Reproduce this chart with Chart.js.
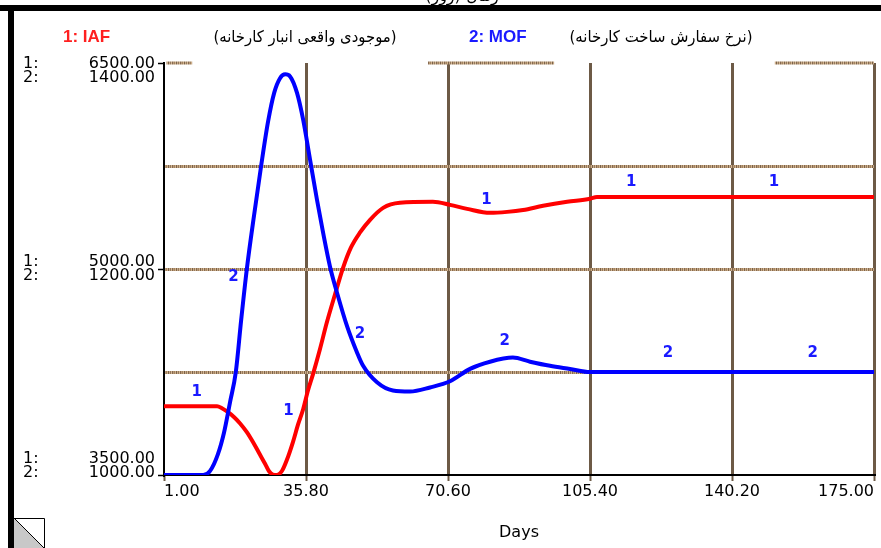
<!DOCTYPE html>
<html>
<head>
<meta charset="utf-8">
<script src="https://cdn.jsdelivr.net/npm/chart.js@4"></script>
<style>
  html, body { margin: 0; padding: 0; background: #fff; }
  #wrap { width: 881px; height: 548px; position: relative; overflow: hidden; }
</style>
</head>
<body>
<div id="wrap"><canvas id="myChart" width="881" height="548"></canvas></div>
<script>
// values (days / units)
const iafDays = [1, 14, 15.2, 16.7, 18.2, 19.6, 21.3, 22.8, 24.3, 25.8, 26.7, 27.7, 28.7, 29.9, 31.1, 32.6, 33.8, 35.1, 36.3, 37.5, 39.2, 40.9, 42.9, 44.9, 46.8, 49, 51.5, 54.7, 58.8, 66.9, 71.1, 75.3, 80.9, 85.1, 89, 93.9, 99.8, 105.4, 107.1, 175];
const iafValues = [4000, 4000, 3986, 3957, 3921, 3877, 3812, 3740, 3660, 3580, 3529, 3503, 3500, 3529, 3609, 3740, 3863, 3979, 4117, 4233, 4414, 4610, 4814, 5010, 5155, 5264, 5358, 5445, 5482, 5489, 5467, 5438, 5409, 5416, 5430, 5460, 5489, 5511, 5525, 5525];

const mofDays = [1, 10.6, 12.3, 14.2, 15.7, 17.2, 18.6, 19.9, 21.3, 23.1, 24.8, 26.5, 28, 29.4, 30.7, 31.9, 33.6, 35.1, 36.8, 38.5, 40, 41.7, 43.4, 45.9, 48.3, 49.8, 53.2, 57.1, 61.3, 66.2, 71.1, 76, 80.9, 86.5, 90.7, 95.6, 100.5, 105.4, 175];
const mofValues = [1000, 1000, 1004, 1020, 1041, 1071, 1100, 1150, 1200, 1253, 1300, 1343, 1371, 1385, 1389, 1387, 1371, 1345, 1306, 1267, 1235, 1202, 1177, 1144, 1119, 1106, 1090, 1082, 1081, 1085, 1091, 1103, 1110, 1114, 1110, 1106, 1103, 1100, 1100];

// axis ticks
const xTickValues = [1, 35.8, 70.6, 105.4, 140.2, 175];
const iafTickValues = [3500, 4250, 5000, 5750, 6500];
const iafLabelTicks = [3500, 5000, 6500];
const mofLabelTicks = [1000, 1200, 1400];

// the little "1" / "2" tags Stella writes along each curve
const iafTagDays = [9, 31.5, 80, 115.5, 150.5];
const iafTagValues = [4100, 3965, 5505, 5635, 5635];
const mofTagDays = [18, 49, 84.5, 124.5, 160];
const mofTagValues = [1192, 1137, 1130, 1118, 1118];

const seriesNames = ['1: IAF', '2: MOF'];
const seriesTitles = ['(موجودی واقعی انبار کارخانه)', '(نرخ سفارش ساخت کارخانه)'];

const FONT = 'DejaVu Sans';
const axisFont = { family: FONT, size: 16 };
const vGridColor = '#6d5a46';
const clear = 'rgba(0,0,0,0)';

let canvas = document.getElementById('myChart');
let ctx = canvas.getContext('2d');

// textured brown for the horizontal grid lines
function brownPattern() {
    const c = document.createElement('canvas');
    c.width = 8; c.height = 3;
    const g = c.getContext('2d');
    const cols = ['#7b6249', '#c7aa88', '#94785b', '#d2b794', '#86694f', '#b89a78', '#a0825f', '#cfb08c'];
    cols.forEach((col, i) => { g.fillStyle = col; g.fillRect(i, 0, 1, 3); });
    return ctx.createPattern(c, 'repeat');
}
const hGrid = brownPattern();

const stellaPlugin = {
    id: 'stella',
    beforeDatasetsDraw(chart) {
        // top grid line is only partly drawn in the original
        const c = chart.ctx, xs = chart.scales.x, ys = chart.scales.y;
        const py = ys.getPixelForValue(6500);
        c.save();
        c.strokeStyle = hGrid;
        c.lineWidth = 3;
        [[1.6, 7.9], [65.7, 96.6], [150.7, 175]].forEach(([a, b]) => {
            c.beginPath();
            c.moveTo(xs.getPixelForValue(a), py);
            c.lineTo(xs.getPixelForValue(b), py);
            c.stroke();
        });
        c.restore();
    },
    afterDatasetsDraw(chart) {
        const c = chart.ctx, xs = chart.scales.x;
        c.save();
        c.font = 'bold 15px "' + FONT + '"';
        c.fillStyle = '#1a1aff';
        c.textAlign = 'center';
        c.textBaseline = 'middle';
        iafTagDays.forEach((d, i) => {
            c.fillText('1', xs.getPixelForValue(d), chart.scales.y.getPixelForValue(iafTagValues[i]));
        });
        mofTagDays.forEach((d, i) => {
            c.fillText('2', xs.getPixelForValue(d), chart.scales.y2.getPixelForValue(mofTagValues[i]));
        });
        c.restore();
    },
    afterDraw(chart) {
        const c = chart.ctx, ys = chart.scales.y;
        c.save();

        // y labels, both scales stacked at each labelled tick
        c.font = '16px "' + FONT + '"';
        c.fillStyle = '#000';
        c.textBaseline = 'middle';
        iafLabelTicks.forEach((v, i) => {
            const py = ys.getPixelForValue(v);
            let y1 = py - 7, y2 = py + 7;
            if (i === 0) { y1 = py - 16; y2 = py - 2; }
            if (i === iafLabelTicks.length - 1) { y1 = py + 0.5; y2 = py + 14.5; }
            c.textAlign = 'left';
            c.fillText('1:', 23, y1);
            c.fillText('2:', 23, y2);
            c.textAlign = 'right';
            c.fillText(v.toFixed(2), 155, y1);
            c.fillText(mofLabelTicks[i].toFixed(2), 155, y2);
        });

        // legend row
        c.font = 'bold 17px "Liberation Sans"';
        c.textAlign = 'left';
        c.fillStyle = '#ff2020';
        c.fillText(seriesNames[0], 63, 37, 48);
        c.fillStyle = '#1a1aff';
        c.fillText(seriesNames[1], 469, 37, 60);
        c.fillStyle = '#000';
        c.font = '16px "' + FONT + '"';
        c.direction = 'rtl';
        c.textAlign = 'center';
        c.fillText(seriesTitles[0], 305, 38, 183);
        c.fillText(seriesTitles[1], 661, 38, 183);

        // cut-off window title
        c.font = '16px "' + FONT + '"';
        c.textBaseline = 'alphabetic';
        c.fillText('زمان (روز)', 462, 1);
        c.direction = 'ltr';

        // window frame
        c.fillStyle = '#000';
        c.fillRect(0, 5, 881, 6);
        c.fillRect(8, 5, 6, 543);

        // page corner icon
        c.fillStyle = '#c8c8c8';
        c.beginPath();
        c.moveTo(14, 518); c.lineTo(45, 549); c.lineTo(14, 549); c.closePath();
        c.fill();
        c.strokeStyle = '#000';
        c.lineWidth = 1;
        c.beginPath();
        c.moveTo(14, 518.5); c.lineTo(44.5, 518.5); c.lineTo(44.5, 549);
        c.moveTo(14, 518); c.lineTo(45, 549);
        c.stroke();
        c.restore();
    }
};

let chart = new Chart(ctx, {
    type: 'line',
    data: {
        datasets: [{
            label: 'IAF',
            data: iafDays.map((d, i) => ({ x: d, y: iafValues[i] })),
            yAxisID: 'y',
            borderColor: '#ff0000',
            borderWidth: 4,
            pointRadius: 0,
            cubicInterpolationMode: 'monotone',
            order: 1
        }, {
            label: 'MOF',
            data: mofDays.map((d, i) => ({ x: d, y: mofValues[i] })),
            yAxisID: 'y2',
            borderColor: '#0000ff',
            borderWidth: 4,
            pointRadius: 0,
            cubicInterpolationMode: 'monotone',
            order: 0
        }]
    },
    options: {
        responsive: false,
        animation: false,
        layout: { padding: { left: 158, right: 7, top: 63, bottom: 5.4 } },
        plugins: {
            legend: { display: false },
            tooltip: { enabled: false }
        },
        scales: {
            x: {
                type: 'linear',
                min: 1,
                max: 175,
                afterBuildTicks: s => { s.ticks = xTickValues.map(v => ({ value: v })); },
                ticks: {
                    callback: v => v.toFixed(2),
                    color: '#000',
                    font: axisFont,
                    padding: 1,
                    maxRotation: 0,
                    autoSkip: false,
                    align: 'inner'
                },
                grid: {
                    color: c => c.index === 0 ? clear : vGridColor,
                    lineWidth: 3,
                    tickLength: 6,
                    tickColor: vGridColor,
                    tickWidth: 2
                },
                border: { color: '#000', width: 2 },
                title: {
                    display: true,
                    text: 'Days',
                    color: '#000',
                    font: axisFont,
                    padding: { top: 21.2, bottom: 0 }
                }
            },
            y: {
                position: 'left',
                min: 3500,
                max: 6500,
                afterBuildTicks: s => { s.ticks = iafTickValues.map(v => ({ value: v })); },
                ticks: { display: false },
                grid: {
                    color: c => (c.tick && (c.tick.value === 3500 || c.tick.value === 6500)) ? clear : hGrid,
                    lineWidth: 3,
                    tickLength: 6,
                    tickWidth: 1.5,
                    tickColor: c => (c.tick && iafLabelTicks.includes(c.tick.value)) ? '#000' : clear
                },
                border: { color: '#000', width: 2 }
            },
            y2: {
                display: false,
                position: 'left',
                min: 1000,
                max: 1400
            }
        }
    },
    plugins: [stellaPlugin]
});
</script>
</body>
</html>
